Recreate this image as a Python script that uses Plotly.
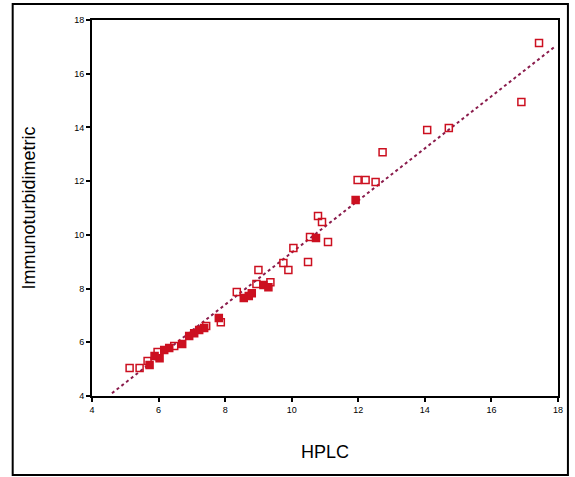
import plotly.graph_objects as go

# Data
hplc = [5.13, 5.43, 5.67, 5.73, 5.88, 5.97, 6.03, 6.17, 6.32, 6.47, 6.71, 6.92, 7.07,
        7.22, 7.37, 7.43, 7.81, 7.87, 8.35, 8.56, 8.71, 8.80, 8.94, 9.00, 9.15, 9.30,
        9.36, 9.75, 9.90, 10.05, 10.49, 10.55, 10.73, 10.79, 10.91, 11.09, 11.92,
        11.98, 12.22, 12.52, 12.73, 14.07, 14.72, 16.90, 17.43]
immuno = [5.04, 5.04, 5.30, 5.15, 5.49, 5.64, 5.41, 5.71, 5.79, 5.86, 5.94, 6.23, 6.34,
          6.46, 6.53, 6.61, 6.90, 6.75, 7.87, 7.65, 7.72, 7.83, 8.17, 8.69, 8.13, 8.05,
          8.24, 8.95, 8.69, 9.51, 8.99, 9.92, 9.88, 10.70, 10.48, 9.73, 11.30,
          12.04, 12.04, 11.97, 13.08, 13.90, 13.98, 14.95, 17.14]
filled = [False, False, False, True, True, False, True, True, True, False, True, True, True,
          True, True, False, True, False, False, True, True, True, False, False, True, True,
          False, False, False, False, False, False, True, False, False, False, True,
          False, False, False, False, False, False, False, False]

# Regression line
fit_slope = 0.97
fit_intercept = -0.36
fit_x = [4.6, 17.9]

x_ticks = [4, 6, 8, 10, 12, 14, 16, 18]
y_ticks = [4, 6, 8, 10, 12, 14, 16, 18]

red = "#cc1020"
font_family = "Arial, Liberation Sans, sans-serif"

fig = go.Figure()
fig.add_trace(go.Scatter(
    x=fit_x, y=[fit_slope * v + fit_intercept for v in fit_x],
    mode="lines", line=dict(color="#8a1c4c", width=2, dash="dot"),
    showlegend=False, hoverinfo="skip"))
fig.add_trace(go.Scatter(
    x=hplc, y=immuno, mode="markers",
    marker=dict(symbol=["square" if f else "square-open" for f in filled],
                size=7, color=red, line=dict(color=red, width=1.5)),
    showlegend=False))

axis_common = dict(
    showgrid=False, zeroline=False, showline=True, linecolor="black", linewidth=2,
    mirror=True, ticks="outside", ticklen=4, tickwidth=2, tickcolor="black",
    tickfont=dict(family=font_family, size=9, color="black"),
)

fig.update_xaxes(range=[4, 18], tickvals=x_ticks,
                 title=dict(text="HPLC", standoff=32,
                            font=dict(family=font_family, size=18, color="black")),
                 **axis_common)
fig.update_yaxes(range=[4, 18], tickvals=y_ticks,
                 title=dict(text="Immunoturbidimetric", standoff=34,
                            font=dict(family=font_family, size=18, color="black")),
                 **axis_common)

fig.add_shape(type="rect", xref="paper", yref="paper",
              x0=-0.1702, x1=1.0213, y0=-0.2101, y1=1.0426,
              line=dict(color="black", width=2), fillcolor="rgba(0,0,0,0)", layer="below")

fig.update_layout(
    width=575, height=477,
    margin=dict(l=92, r=13, t=20, b=81),
    paper_bgcolor="white", plot_bgcolor="white",
)

fig.write_html("out.html", config={"displayModeBar": False},
               post_script="document.body.style.margin='0px';document.body.style.overflow='hidden';")
